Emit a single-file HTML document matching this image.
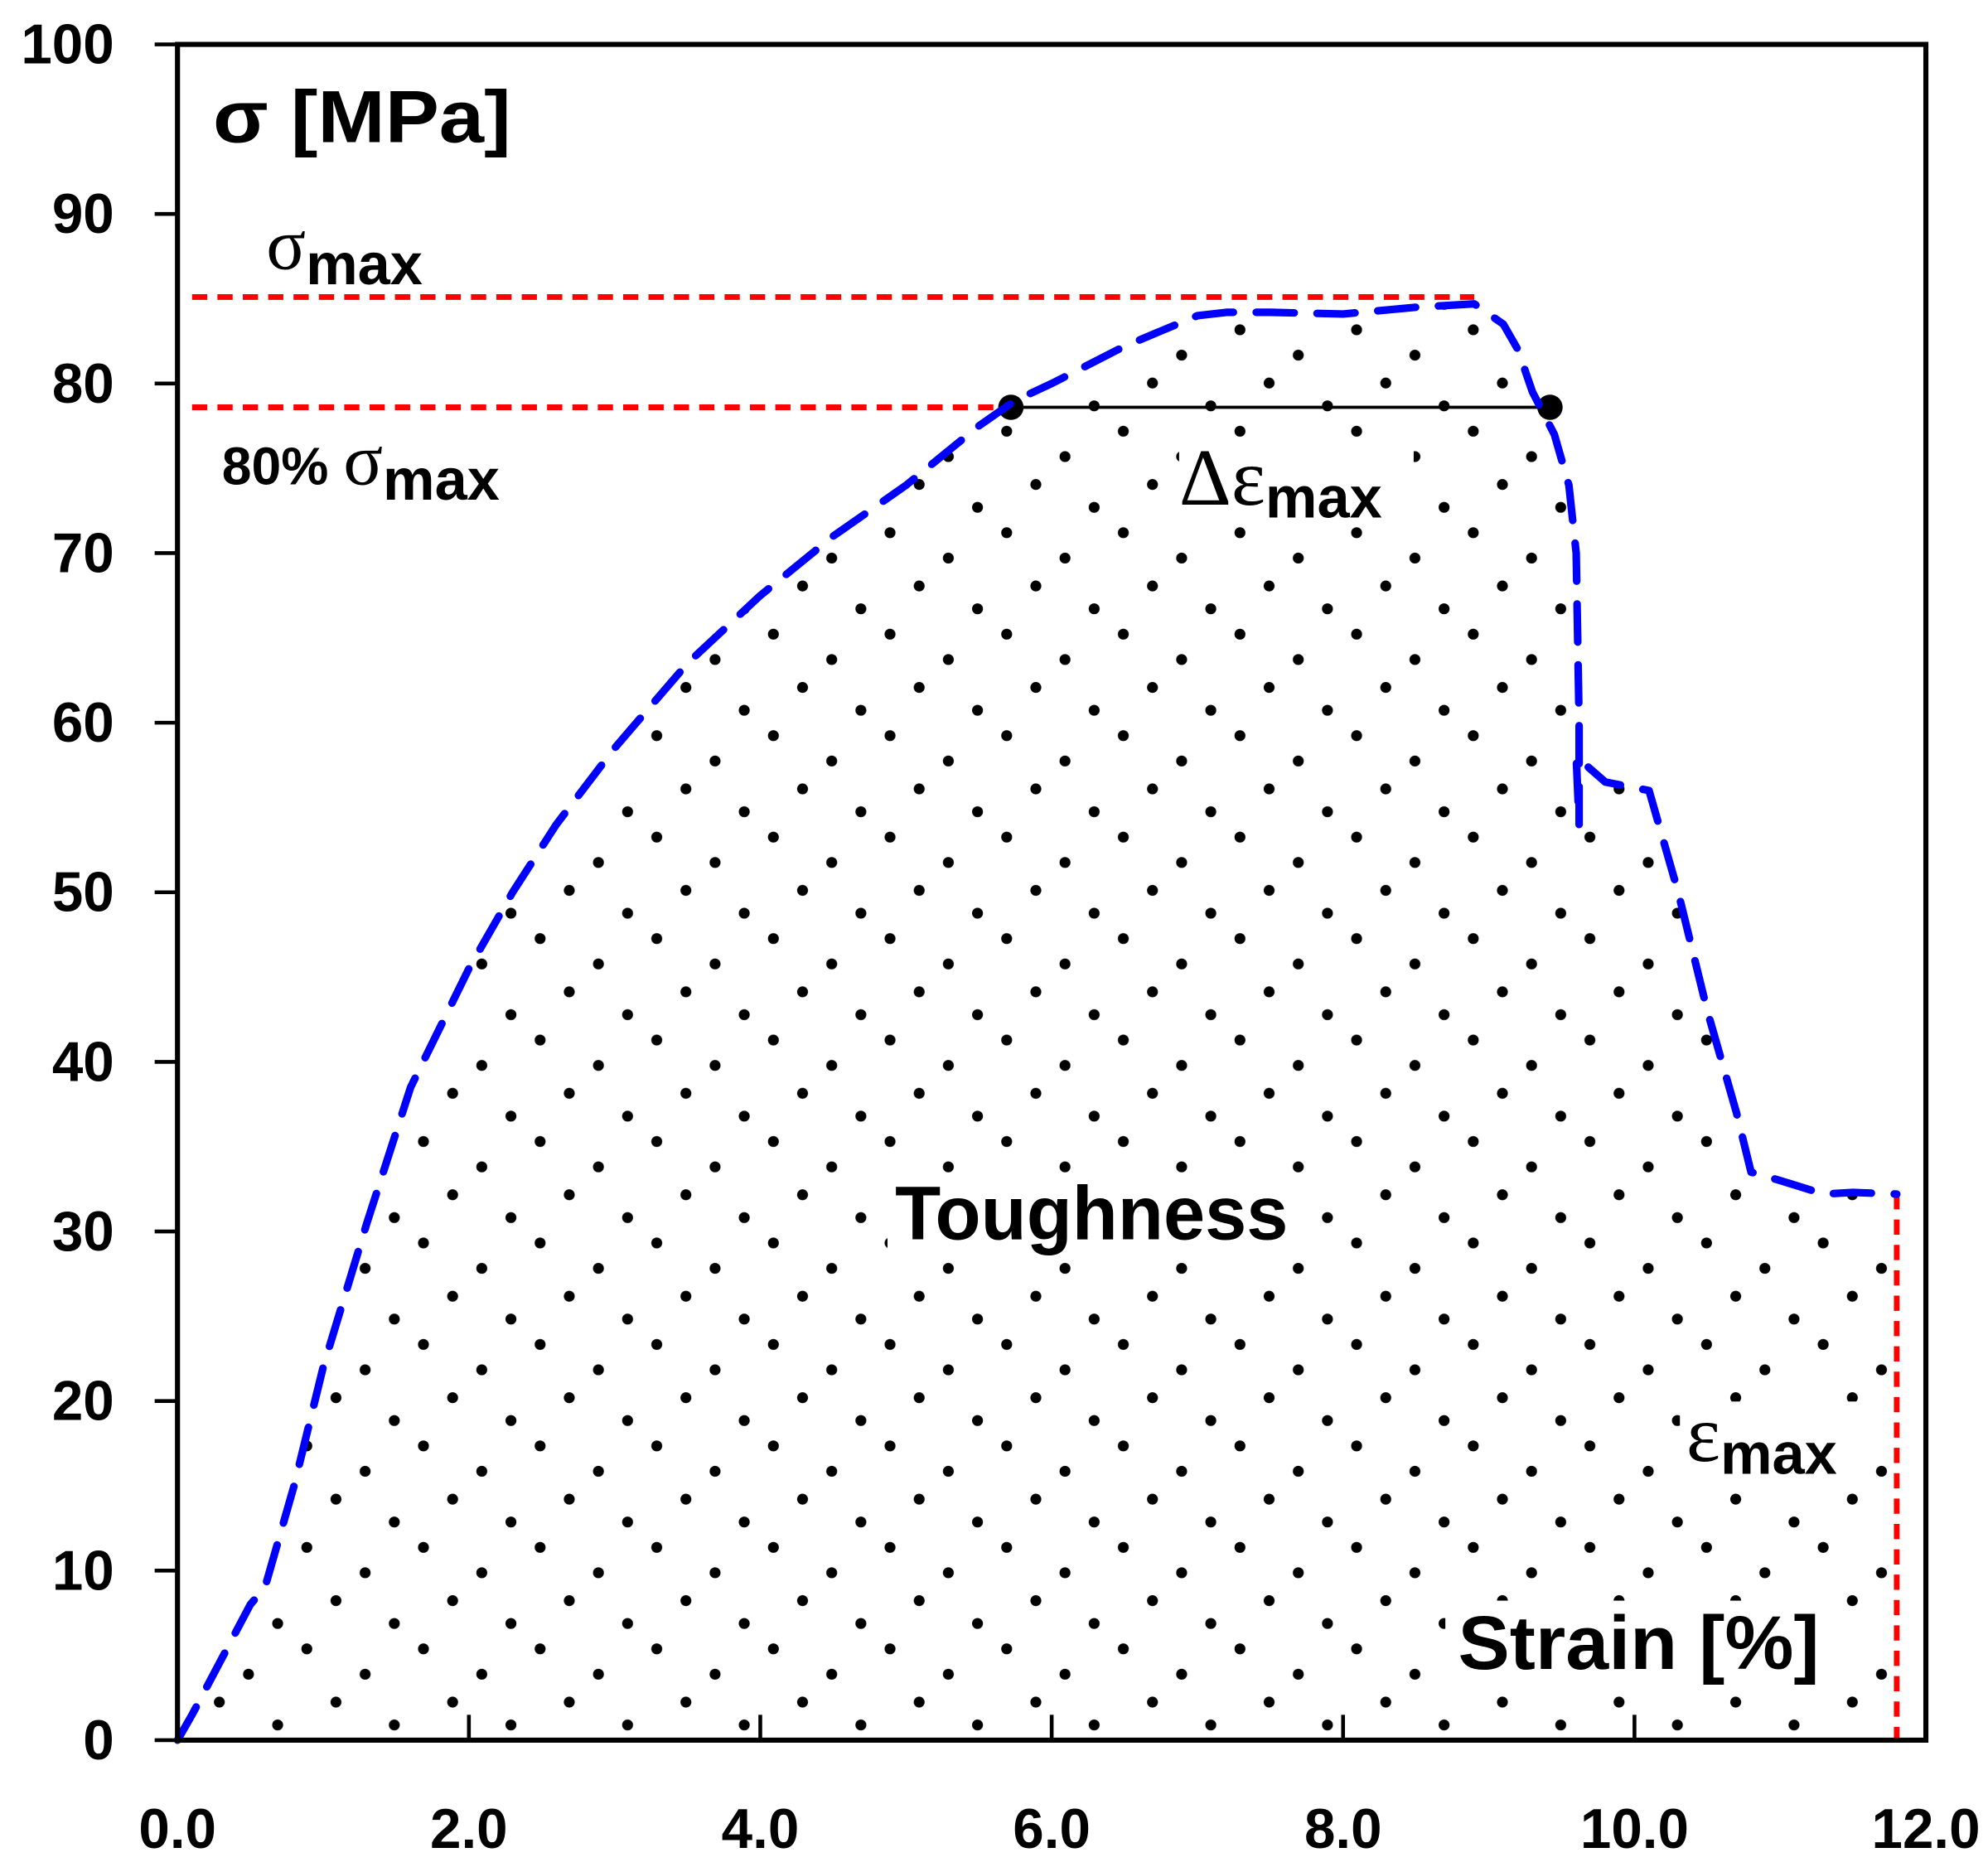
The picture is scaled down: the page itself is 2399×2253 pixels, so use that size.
<!DOCTYPE html>
<html><head><meta charset="utf-8"><style>html,body{margin:0;padding:0;background:#fff}svg{display:block}</style></head>
<body>
<svg id="chart" width="2399" height="2253" viewBox="0 0 1568 1472" preserveAspectRatio="none" xmlns="http://www.w3.org/2000/svg" font-family="Liberation Sans, sans-serif">
<defs>
<pattern id="dots" patternUnits="userSpaceOnUse" width="92" height="80" x="140" y="10">
<circle cx="10" cy="10" r="4.3" fill="#000"/><circle cx="56" cy="30" r="4.3" fill="#000"/><circle cx="33" cy="52" r="4.3" fill="#000"/><circle cx="79" cy="70" r="4.3" fill="#000"/>
</pattern>
<clipPath id="areaClip"><path id="clipPath"/></clipPath>
</defs>
<g id="area"></g>
<g fill="#fff">
<rect x="930" y="345" width="185" height="68"/>
<rect x="700" y="925" width="325" height="70"/>
<rect x="1325" y="1105" width="150" height="68"/>
<rect x="1140" y="1262" width="305" height="72"/>
</g>
<g id="refs"></g>
<g id="curve"></g>
<rect x="140" y="35" width="1379" height="1337" fill="none" stroke="#000" stroke-width="4"/>
<g id="yticks"></g><g id="xticks"></g>
<text x="168" y="112" font-size="58" font-weight="bold" textLength="235" lengthAdjust="spacingAndGlyphs">σ [MPa]</text>
<text x="210" y="212" font-size="58" font-family="Liberation Serif, serif">σ<tspan font-size="46" font-weight="bold" font-family="Liberation Sans, sans-serif" dy="12">max</tspan></text>
<text x="175" y="382" font-size="42" font-weight="bold">80% <tspan font-size="58" font-weight="normal" font-family="Liberation Serif, serif">σ</tspan><tspan font-size="46" dy="12">max</tspan></text>
<text x="930" y="398" font-size="64" font-family="Liberation Serif, serif">Δε<tspan font-size="46" font-weight="bold" font-family="Liberation Sans, sans-serif" dy="10">max</tspan></text>
<text x="706" y="977" font-size="60" font-weight="bold" textLength="310" lengthAdjust="spacingAndGlyphs">Toughness</text>
<text x="1330" y="1152" font-size="64" font-family="Liberation Serif, serif">ε<tspan font-size="46" font-weight="bold" font-family="Liberation Sans, sans-serif" dy="10">max</tspan></text>
<text x="1150" y="1316" font-size="60" font-weight="bold" textLength="285" lengthAdjust="spacingAndGlyphs">Strain [%]</text>
</svg>
<script>
const strain=[0,0.1,0.5,0.6,0.8,1.0,1.3,1.6,2.0,2.3,2.6,3.0,3.5,4.0,4.5,5.0,5.5,5.75,6.0,6.5,7.0,7.2,7.5,8.0,8.5,8.9,9.1,9.2,9.3,9.45,9.55,9.6,9.62,9.62,9.6,9.8,10.1,10.3,10.5,10.7,10.8,11.0,11.3,11.5,11.8];
const stress=[0,1.5,8,9,15,22,30.5,38.5,45.5,50,54,58.5,63.5,67.5,71,74,77.5,79,80,82.2,84,84.2,84.2,84.1,84.5,84.7,83.5,82,79.5,77,74,70,60,54,58,56.5,56,50,43,37,33.5,33,32.2,32.3,32.2];
const sigmaMax=85.1, sigma80=78.6, eps1=5.72, eps2=9.42, epsMax=11.8, epsMaxStress=32.2;
const yTicks=[0,10,20,30,40,50,60,70,80,90,100];
const xTicks=[0,2,4,6,8,10,12];
const xTickLabels=["0.0","2.0","4.0","6.0","8.0","10.0","12.0"];
const X=v=>140+v*(1379/12), Y=v=>1372-v*(1337/100);
const NS="http://www.w3.org/2000/svg";
function mk(t,a,p){const e=document.createElementNS(NS,t);for(const k in a)e.setAttribute(k,a[k]);p.appendChild(e);return e;}
let d=strain.map((s,i)=>(i?"L":"M")+X(s)+","+Y(stress[i])).join(" ");
document.getElementById('clipPath').setAttribute('d',d+" L"+X(epsMax)+","+Y(0)+" Z");
const ar=mk('rect',{x:140,y:35,width:1379,height:1337,fill:"url(#dots)","clip-path":"url(#areaClip)"},document.getElementById('area'));


const refs=document.getElementById('refs');
const r1=mk('line',{x1:X(0.1),x2:X(8.9),y1:Y(sigmaMax),y2:Y(sigmaMax),stroke:"#f00","stroke-width":4.5,"stroke-dasharray":"12 8"},refs);


const r2=mk('line',{x1:X(0.1),x2:X(eps1),y1:Y(sigma80),y2:Y(sigma80),stroke:"#f00","stroke-width":4.5,"stroke-dasharray":"12 8"},refs);


const r3=mk('line',{x1:X(epsMax),x2:X(epsMax),y1:Y(epsMaxStress),y2:Y(0),stroke:"#f00","stroke-width":4.5,"stroke-dasharray":"12 8"},refs);


const seg=mk('line',{x1:X(eps1),x2:X(eps2),y1:Y(sigma80),y2:Y(sigma80),stroke:"#000","stroke-width":2.5},refs);


[eps1,eps2].forEach(e=>{const c=mk('circle',{cx:X(e),cy:Y(sigma80),r:10,fill:"#000"},refs);

});
const cv=mk('path',{d:d,fill:"none",stroke:"#00f","stroke-width":6,"stroke-dasharray":"30 18","stroke-linejoin":"round","stroke-linecap":"round"},document.getElementById('curve'));


const yg=document.getElementById('yticks');
yTicks.forEach(v=>{const l=mk('line',{x1:122,x2:140,y1:Y(v),y2:Y(v),stroke:"#000","stroke-width":3},yg);


const t=mk('text',{x:90,y:Y(v)+15,"text-anchor":"end","font-size":44,"font-weight":"bold"},yg);t.textContent=v;

});
const xg=document.getElementById('xticks');
xTicks.forEach((v,i)=>{const l=mk('line',{x1:X(v),x2:X(v),y1:1352,y2:1372,stroke:"#000","stroke-width":3},xg);


const t=mk('text',{x:X(v),y:1457,"text-anchor":"middle","font-size":44,"font-weight":"bold"},xg);t.textContent=xTickLabels[i];

});
</script>
</body></html>
